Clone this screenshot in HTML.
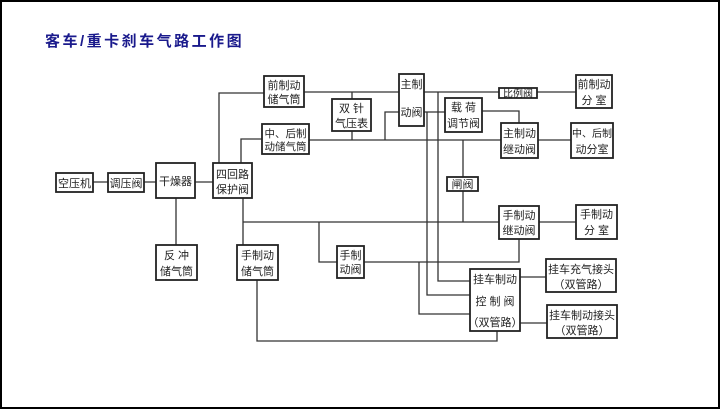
<!DOCTYPE html>
<html><head><meta charset="utf-8"><style>
html,body{margin:0;padding:0;background:#fff}
svg{display:block}
text{font-family:"Liberation Sans","Noto Sans CJK SC",sans-serif;font-size:11px;fill:#222}
</style></head><body>
<svg width="720" height="409" viewBox="0 0 720 409" xmlns="http://www.w3.org/2000/svg">
<rect x="1" y="1" width="718" height="407" fill="#fff" stroke="#000" stroke-width="2"/>
<text x="45" y="46" style="font-size:15px;font-weight:bold;fill:#1a1a8c;letter-spacing:2.5px">客车/重卡刹车气路工作图</text>
<g stroke="#333" stroke-width="1.3" fill="none">
<path d="M93 182H108M144 182H156M195 182H213"/>
<path d="M176 198V245"/>
<path d="M219 163V93H264M304 92H399M352 92V99"/>
<path d="M241 163V139H262M309 140H501M352 131V140"/>
<path d="M385 140V112H399M424 112H445M482 111H519V123M538 140H571"/>
<path d="M424 92H499M537 92H576"/>
<path d="M243 198V245M243 222H499M539 222H576"/>
<path d="M463 140V177M463 191V222"/>
<path d="M319 222V262H337M364 262H519V239"/>
<path d="M427 112V295H470M438 92V281H470M419 262V314H470"/>
<path d="M257 280V341H497V331"/>
<path d="M520 277H546M520 323H547"/>
</g>
<g stroke="#222" stroke-width="1.8" fill="#fff">
<rect x="56" y="173" width="37" height="19"/>
<rect x="108" y="173" width="36" height="19"/>
<rect x="156" y="163" width="39" height="35"/>
<rect x="213" y="163" width="39" height="35"/>
<rect x="264" y="76" width="40" height="31"/>
<rect x="332" y="99" width="39" height="32"/>
<rect x="262" y="124" width="47" height="30"/>
<rect x="156" y="245" width="41" height="35"/>
<rect x="237" y="245" width="41" height="35"/>
<rect x="337" y="246" width="27" height="32"/>
<rect x="399" y="74" width="25" height="52"/>
<rect x="445" y="98" width="37" height="34"/>
<rect x="499" y="88" width="38" height="10"/>
<rect x="576" y="75" width="36" height="33"/>
<rect x="501" y="123" width="37" height="35"/>
<rect x="571" y="123" width="42" height="35"/>
<rect x="447" y="177" width="31" height="14"/>
<rect x="499" y="206" width="40" height="33"/>
<rect x="576" y="205" width="41" height="34"/>
<rect x="470" y="269" width="50" height="62"/>
<rect x="546" y="259" width="70" height="33"/>
<rect x="547" y="305" width="70" height="33"/>
</g>
<g text-anchor="middle">
<text x="74.5" y="187">空压机</text>
<text x="126" y="187">调压阀</text>
<text x="175.5" y="185">干燥器</text>
<text x="232.5" y="178">四回路</text><text x="232.5" y="193">保护阀</text>
<text x="284" y="89">前制动</text><text x="284" y="103">储气筒</text>
<text x="351.5" y="112">双 针</text><text x="351.5" y="127">气压表</text>
<text x="285.5" y="137" style="font-size:10.5px">中、后制</text><text x="285.5" y="150" style="font-size:10.5px">动储气筒</text>
<text x="176.5" y="259">反 冲</text><text x="176.5" y="275">储气筒</text>
<text x="257.5" y="259">手制动</text><text x="257.5" y="275">储气筒</text>
<text x="350.5" y="259">手制</text><text x="350.5" y="273">动阀</text>
<text x="411.5" y="88">主制</text><text x="411.5" y="116">动阀</text>
<text x="463.5" y="111">载 荷</text><text x="463.5" y="127">调节阀</text>
<text x="518" y="97" style="font-size:10px">比例阀</text>
<text x="594" y="88">前制动</text><text x="594" y="104">分 室</text>
<text x="519.5" y="137">主制动</text><text x="519.5" y="153">继动阀</text>
<text x="592" y="137" style="font-size:10px">中、后制</text><text x="592" y="153">动分室</text>
<text x="462.5" y="188">闸阀</text>
<text x="519" y="219">手制动</text><text x="519" y="234">继动阀</text>
<text x="596.5" y="218">手制动</text><text x="596.5" y="234">分 室</text>
<text x="495" y="283">挂车制动</text><text x="495" y="305">控 制 阀</text><text x="495" y="326">（双管路）</text>
<text x="581" y="273">挂车充气接头</text><text x="581" y="288">（双管路）</text>
<text x="582" y="319">挂车制动接头</text><text x="582" y="334">（双管路）</text>
</g>
</svg>
</body></html>
